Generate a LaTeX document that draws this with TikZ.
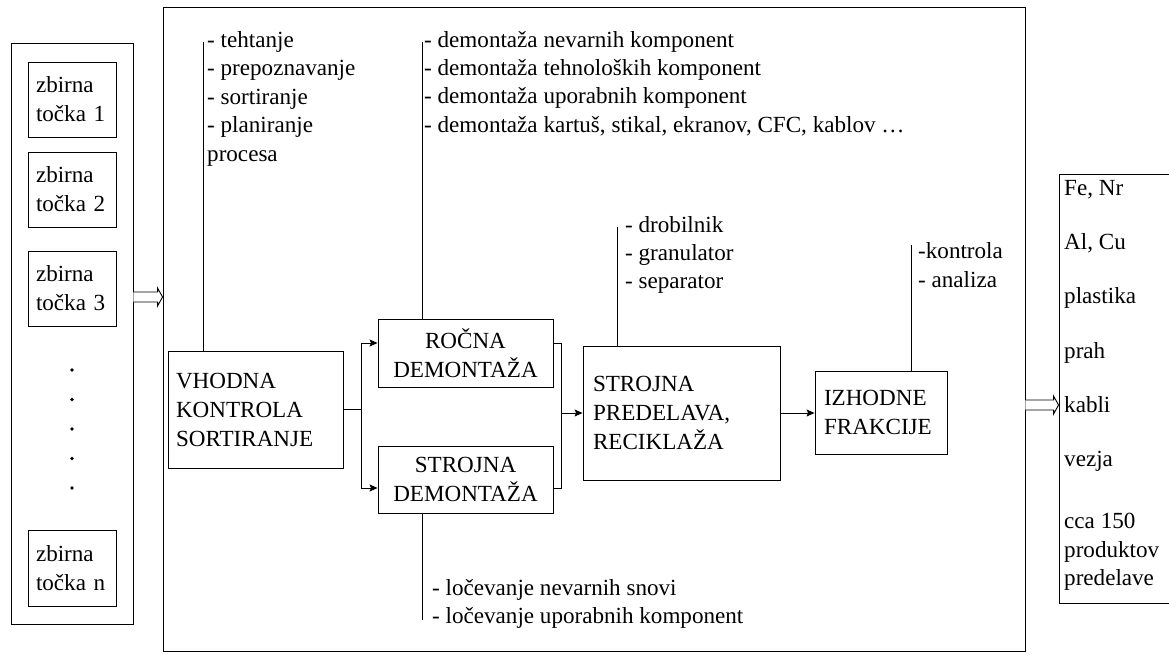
\documentclass[tikz,border=0pt]{standalone}
\usepackage{fontspec}
\setmainfont{Liberation Serif}
\usetikzlibrary{arrows.meta,calc}

% outlined block arrow from #1 to #2 (horizontal)
\newcommand\hollowarrow[2]{%
  \draw[line width=0.9pt, fill=white] let \p1=(#1), \p2=(#2) in
    (\x1,\y1+5pt) -- (\x2-5pt,\y1+5pt) -- (\x2-5pt,\y1+9pt) -- (\x2,\y1)
    -- (\x2-5pt,\y1-9pt) -- (\x2-5pt,\y1-5pt) -- (\x1,\y1-5pt);}

\begin{document}
\begin{tikzpicture}[x=1pt,y=-1pt,
  every node/.style={font=\fontsize{23.1}{29}\selectfont},
  box/.style={draw, line width=0.9pt, rectangle, inner sep=0pt},
  lbl/.style={anchor=base west, inner sep=0pt},
  ln/.style={line width=0.9pt},
  arr/.style={line width=0.9pt, -{Stealth[length=8pt,width=7pt,inset=1.5pt]}},
  dot/.style={circle, fill, inner sep=0pt, minimum size=3.6pt},
]
\useasboundingbox (0,0) rectangle (1169,664);

% collection points
\node[box, minimum width=122pt, minimum height=581pt] (lbox) at (72,333.5) {};
\node[box, minimum width=88pt, minimum height=75pt, text width=72pt, align=left] (zb1) at (72,99.5) {zbirna\\točka 1};
\node[box, minimum width=88pt, minimum height=75pt, text width=72pt, align=left] (zb2) at (72,189.5) {zbirna\\točka 2};
\node[box, minimum width=88pt, minimum height=75pt, text width=72pt, align=left] (zb3) at (72,288.5) {zbirna\\točka 3};
\node[box, minimum width=88pt, minimum height=76pt, text width=72pt, align=left] (zbn) at (72,568) {zbirna\\točka n};
\foreach \i/\y in {1/370,2/399.5,3/429,4/458.5,5/488}
  \node[dot] (dt\i) at (72,\y) {};

% processing plant
\node[box, minimum width=862pt, minimum height=644pt] (main) at (594,329) {};

\node[box, minimum width=175pt, minimum height=117pt, text width=159pt, align=left] (vh) at (255.5,409.5) {VHODNA\\KONTROLA\\SORTIRANJE};
\node[box, minimum width=175pt, minimum height=68pt, text width=159pt, align=center] (roc) at (465.5,353) {ROČNA\\DEMONTAŽA};
\node[box, minimum width=175pt, minimum height=67pt, text width=159pt, align=center] (sd) at (465.5,479.5) {STROJNA\\DEMONTAŽA};
\node[box, minimum width=197pt, minimum height=134pt, text width=177pt, align=left] (sp) at (681.5,413) {STROJNA\\PREDELAVA,\\RECIKLAŽA};
\node[box, minimum width=132pt, minimum height=83pt, text width=114pt, align=left] (iz) at (881,412.5) {IZHODNE\\FRAKCIJE};

% output fractions
\node[box, minimum width=116pt, minimum height=429pt] (out) at (1117,388.5) {};

% annotation lists
\node[lbl] (ta1) at (207,47) {- tehtanje};
\node[lbl] (ta2) at (207,75.6) {- prepoznavanje};
\node[lbl] (ta3) at (207,104.2) {- sortiranje};
\node[lbl] (ta4) at (207,132.8) {- planiranje};
\node[lbl] (ta5) at (207,161.4) {procesa};

\node[lbl] (tb1) at (424,47) {- demontaža nevarnih komponent};
\node[lbl] (tb2) at (424,75.4) {- demontaža tehnoloških komponent};
\node[lbl] (tb3) at (424,103.8) {- demontaža uporabnih komponent};
\node[lbl] (tb4) at (424,132.2) {- demontaža kartuš, stikal, ekranov, CFC, kablov \dots};

\node[lbl] (tc1) at (625,232) {- drobilnik};
\node[lbl] (tc2) at (625,260) {- granulator};
\node[lbl] (tc3) at (625,288) {- separator};

\node[lbl] (td1) at (918,258) {-kontrola};
\node[lbl] (td2) at (918,287) {- analiza};

\node[lbl] (te1) at (432,595) {- ločevanje nevarnih snovi};
\node[lbl] (te2) at (432,623) {- ločevanje uporabnih komponent};

\node[lbl] (of1) at (1064,195) {Fe, Nr};
\node[lbl] (of2) at (1064,249) {Al, Cu};
\node[lbl] (of3) at (1064,303) {plastika};
\node[lbl] (of4) at (1064,358) {prah};
\node[lbl] (of5) at (1064,412) {kabli};
\node[lbl] (of6) at (1064,466) {vezja};
\node[lbl] (of7) at (1064,528) {cca 150};
\node[lbl] (of8) at (1064,557) {produktov};
\node[lbl] (of9) at (1064,585) {predelave};

% annotation leader lines
\coordinate (la) at (203,42);
\coordinate (lb) at (422,42);
\coordinate (lc) at (617,227);
\coordinate (ld) at (911,245);
\coordinate (le) at (422,620);
\draw[ln] (la) -- (la |- vh.north);
\draw[ln] (lb) -- (lb |- roc.north);
\draw[ln] (lc) -- (lc |- sp.north);
\draw[ln] (ld) -- (ld |- iz.north);
\draw[ln] (le) -- (le |- sd.south);

% process flow
\draw[ln] (vh.east) -- ++(18,0) coordinate (br);
\draw[arr] (br) |- ($(roc.west)+(0,-10)$);
\draw[arr] (br) |- ($(sd.west)+(0,8.5)$);
\coordinate (jn) at ($(sp.west)+(-21,0)$);
\draw[ln] ($(roc.east)+(0,-10)$) -| (jn) |- ($(sd.east)+(0,8.5)$);
\draw[arr] (jn) -- (sp.west);
\draw[arr] (sp.east) -- (sp.east -| iz.west);

% block arrows in and out
\coordinate (ha) at ($(lbox.east)+(0,-36.5)$);
\hollowarrow{ha}{ha -| main.west}
\coordinate (hb) at ($(main.east)+(0,76)$);
\hollowarrow{hb}{hb -| out.west}
\end{tikzpicture}
\end{document}
